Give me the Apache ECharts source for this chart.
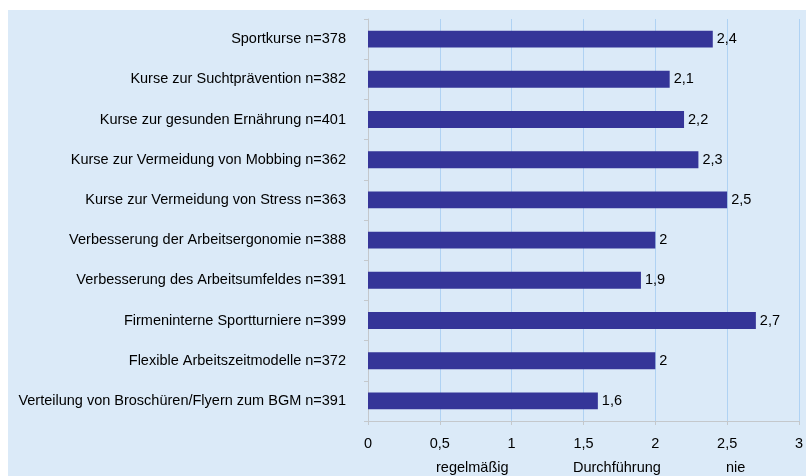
<!DOCTYPE html>
<html><head><meta charset="utf-8">
<script src="https://cdn.jsdelivr.net/npm/echarts@6/dist/echarts.min.js"></script>
<style>html,body{margin:0;padding:0;background:#fff}#c{width:806px;height:476px}</style>
</head><body><div id="c"></div>
<script>
const categories = [
  "Sportkurse n=378",
  "Kurse zur Suchtprävention n=382",
  "Kurse zur gesunden Ernährung n=401",
  "Kurse zur Vermeidung von Mobbing n=362",
  "Kurse zur Vermeidung von Stress n=363",
  "Verbesserung der Arbeitsergonomie n=388",
  "Verbesserung des Arbeitsumfeldes n=391",
  "Firmeninterne Sportturniere n=399",
  "Flexible Arbeitszeitmodelle n=372",
  "Verteilung von Broschüren/Flyern zum BGM n=391"
];
const values = [2.4, 2.1, 2.2, 2.3, 2.5, 2.0, 1.9, 2.7, 2.0, 1.6];
const scaleLabels = ["regelmäßig", "Durchführung", "nie"];

const FONT = 'Liberation Sans, Arial, sans-serif';
const FS = 14.5;
const chart = echarts.init(document.getElementById('c'), null, {renderer: 'canvas'});
const fmt = v => String(v).replace('.', ',');
const titleStyle = t => ({text: t, fill: '#000', font: FS + 'px ' + FONT, textVerticalAlign: 'middle'});
chart.setOption({
  animation: false,
  backgroundColor: '#ffffff',
  textStyle: {fontFamily: FONT},
  graphic: [
    {type: 'rect', z: -10, shape: {x: 8, y: 10, width: 798, height: 466}, style: {fill: '#dbeaf8'}},
    {type: 'text', x: 436, y: 468, style: titleStyle(scaleLabels[0])},
    {type: 'text', x: 573, y: 468, style: titleStyle(scaleLabels[1])},
    {type: 'text', x: 726, y: 468, style: titleStyle(scaleLabels[2])}
  ],
  grid: {left: 368, right: 4.5, top: 19, bottom: 55, containLabel: false},
  xAxis: {
    type: 'value', min: 0, max: 3, interval: 0.5,
    axisLine: {show: true, lineStyle: {color: '#c4c8cc', width: 1}},
    axisTick: {show: true, length: 4, lineStyle: {color: '#c4c8cc'}},
    axisLabel: {color: '#000', fontSize: FS, margin: 15, formatter: v => fmt(v)},
    splitLine: {show: true, lineStyle: {color: '#afd2f3', width: 1}}
  },
  yAxis: {
    type: 'category', data: categories, inverse: true,
    axisLine: {show: true, lineStyle: {color: '#c4c8cc'}},
    axisTick: {show: true, length: 4, lineStyle: {color: '#c4c8cc'}},
    axisLabel: {color: '#000', fontSize: FS, margin: 22}
  },
  series: [{
    type: 'bar', data: values, barCategoryGap: '58%',
    itemStyle: {color: '#353598'},
    label: {show: true, position: 'right', distance: 4, color: '#000', fontSize: FS, formatter: p => fmt(p.value)}
  }]
});
</script></body></html>
